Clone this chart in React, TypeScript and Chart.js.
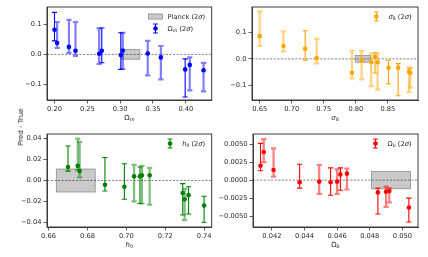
import React, { useEffect, useRef } from "react";
import { Chart, registerables } from "chart.js";
Chart.register(...registerables);

// ---------- Panel 1: Omega_m ----------
const omX = [0.200, 0.204, 0.222, 0.232, 0.268, 0.272, 0.301, 0.304, 0.342, 0.362, 0.399, 0.406, 0.427];
const omY = [0.082, 0.038, 0.025, 0.012, 0.002, 0.012, -0.002, 0.013, 0.003, -0.010, -0.050, -0.035, -0.053];
const omLo = [0.045, 0.022, 0.005, -0.005, -0.032, -0.028, -0.050, -0.048, -0.070, -0.083, -0.142, -0.120, -0.123];
const omHi = [0.140, 0.108, 0.115, 0.108, 0.087, 0.088, 0.072, 0.072, 0.045, 0.028, -0.015, -0.010, -0.028];
const omLight = [false, true, true, true, true, false, false, true, true, true, false, true, true];
const omPlanck = [0.302, 0.330, -0.016, 0.016];
const omXTicks = [0.20, 0.25, 0.30, 0.35, 0.40];
const omXLabels = ["0.20", "0.25", "0.30", "0.35", "0.40"];
const omYTicks = [-0.1, 0.0, 0.1];
const omYLabels = ["\u22120.1", "0.0", "0.1"];

// ---------- Panel 2: sigma_8 ----------
const s8X = [0.650, 0.687, 0.721, 0.739, 0.794, 0.809, 0.824, 0.830, 0.834, 0.851, 0.866, 0.883, 0.885];
const s8Y = [0.085, 0.048, 0.038, 0.003, -0.052, -0.005, -0.013, 0.008, -0.013, -0.033, -0.033, -0.048, -0.053];
const s8Lo = [0.048, 0.028, -0.005, -0.017, -0.073, -0.077, -0.102, -0.053, -0.115, -0.093, -0.138, -0.125, -0.108];
const s8Hi = [0.178, 0.103, 0.105, 0.075, 0.030, 0.030, 0.020, 0.023, 0.020, -0.005, -0.018, -0.033, -0.035];
const s8Light = [true, true, false, true, true, true, true, false, true, false, false, true, true];
const s8Planck = [0.799, 0.823, -0.0125, 0.0125];
const s8XTicks = [0.65, 0.70, 0.75, 0.80, 0.85];
const s8XLabels = ["0.65", "0.70", "0.75", "0.80", "0.85"];
const s8YTicks = [-0.1, 0.0, 0.1];
const s8YLabels = ["\u22120.1", "0.0", "0.1"];

// ---------- Panel 3: h_0 ----------
const h0X = [0.670, 0.675, 0.676, 0.689, 0.699, 0.704, 0.707, 0.708, 0.712, 0.729, 0.730, 0.732, 0.740];
const h0Y = [0.013, 0.014, 0.009, -0.004, -0.006, 0.004, 0.004, 0.005, 0.005, -0.012, -0.018, -0.014, -0.024];
const h0Lo = [0.009, 0.010, 0.003, -0.010, -0.018, -0.020, -0.022, -0.022, -0.023, -0.033, -0.038, -0.032, -0.040];
const h0Hi = [0.033, 0.040, 0.037, 0.022, 0.016, 0.015, 0.013, 0.014, 0.012, -0.003, -0.008, -0.006, -0.015];
const h0Light = [false, true, true, false, false, true, false, true, true, false, true, false, false];
const h0Planck = [0.664, 0.684, -0.011, 0.011];
const h0XTicks = [0.66, 0.68, 0.70, 0.72, 0.74];
const h0XLabels = ["0.66", "0.68", "0.70", "0.72", "0.74"];
const h0YTicks = [-0.04, -0.02, 0.0, 0.02, 0.04];
const h0YLabels = ["\u22120.04", "\u22120.02", "0.00", "0.02", "0.04"];

// ---------- Panel 4: Omega_b ----------
const obX = [0.0413, 0.0415, 0.0421, 0.0437, 0.0449, 0.0456, 0.0460, 0.0462, 0.0466, 0.0485, 0.0490, 0.0492, 0.0504];
const obY = [0.0020, 0.0039, 0.0014, -0.0003, -0.0002, -0.0003, -0.0002, 0.0008, 0.0009, -0.0017, -0.0016, -0.0015, -0.0038];
const obLo = [0.0013, 0.0025, 0.0005, -0.0011, -0.0019, -0.0021, -0.0019, -0.0014, -0.0013, -0.0047, -0.0037, -0.0031, -0.0058];
const obHi = [0.0051, 0.0057, 0.0044, 0.0022, 0.0021, 0.0017, 0.0015, 0.0017, 0.0016, -0.0011, -0.0009, -0.0011, -0.0025];
const obLight = [false, true, true, false, true, false, true, false, true, false, true, true, false];
const obPlanck = [0.0481, 0.0505, -0.0012, 0.0012];
const obXTicks = [0.042, 0.044, 0.046, 0.048, 0.050];
const obXLabels = ["0.042", "0.044", "0.046", "0.048", "0.050"];
const obYTicks = [-0.005, -0.0025, 0.0, 0.0025, 0.005];
const obYLabels = ["\u22120.0050", "\u22120.0025", "0.0000", "0.0025", "0.0050"];

type Seg = { t: string; it?: boolean; sub?: boolean };

const FONT = '"DejaVu Sans", sans-serif';
const FS = 6.7;

function drawSegs(ctx: CanvasRenderingContext2D, segs: Seg[], x: number, y: number, size: number, align: string, color: string) {
  const fontFor = (s: Seg) => `${s.it ? "italic " : ""}${s.sub ? size * 0.7 : size}px ${FONT}`;
  const widths = segs.map((s) => {
    ctx.font = fontFor(s);
    return ctx.measureText(s.t).width;
  });
  const total = widths.reduce((a, b) => a + b, 0);
  let cx = align === "left" ? x : align === "center" ? x - total / 2 : x - total;
  ctx.textAlign = "left";
  ctx.textBaseline = "alphabetic";
  ctx.fillStyle = color;
  segs.forEach((s, i) => {
    ctx.font = fontFor(s);
    ctx.fillText(s.t, cx, s.sub ? y + size * 0.22 : y);
    cx += widths[i];
  });
  return total;
}

function segWidth(ctx: CanvasRenderingContext2D, segs: Seg[], size: number) {
  let w = 0;
  segs.forEach((s) => {
    ctx.font = `${s.it ? "italic " : ""}${s.sub ? size * 0.7 : size}px ${FONT}`;
    w += ctx.measureText(s.t).width;
  });
  return w;
}

type PanelCfg = {
  xs: number[]; ys: number[]; lo: number[]; hi: number[]; light: boolean[];
  planck: number[]; color: string; rgb: string;
  xTicks: number[]; xLabels: string[]; yTicks: number[]; yLabels: string[];
  xMin: number; xMax: number; yMin: number; yMax: number;
  title: Seg[]; legendLabel: Seg[]; showPlanck: boolean;
  canvas: { x: number; y: number; w: number; h: number };
  area: { l: number; t: number; r: number; b: number };
};

const SIG: Seg[] = [{ t: " (2" }, { t: "\u03c3", it: true }, { t: ")" }];

const panels: PanelCfg[] = [
  {
    xs: omX, ys: omY, lo: omLo, hi: omHi, light: omLight, planck: omPlanck,
    color: "#0000ff", rgb: "0,0,255",
    xTicks: omXTicks, xLabels: omXLabels, yTicks: omYTicks, yLabels: omYLabels,
    xMin: 0.1886, xMax: 0.4394, yMin: -0.152, yMax: 0.158,
    title: [{ t: "\u03a9" }, { t: "m", it: true, sub: true }],
    legendLabel: [{ t: "\u03a9" }, { t: "m", it: true, sub: true }, ...SIG],
    showPlanck: true,
    canvas: { x: 0, y: 0, w: 214, h: 128 },
    area: { l: 47, t: 7, r: 213, b: 100 },
  },
  {
    xs: s8X, ys: s8Y, lo: s8Lo, hi: s8Hi, light: s8Light, planck: s8Planck,
    color: "#ffa500", rgb: "255,165,0",
    xTicks: s8XTicks, xLabels: s8XLabels, yTicks: s8YTicks, yLabels: s8YLabels,
    xMin: 0.638, xMax: 0.897, yMin: -0.154, yMax: 0.194,
    title: [{ t: "\u03c3", it: true }, { t: "8", sub: true }],
    legendLabel: [{ t: "\u03c3", it: true }, { t: "8", sub: true }, ...SIG],
    showPlanck: false,
    canvas: { x: 214, y: 0, w: 214, h: 128 },
    area: { l: 252, t: 7, r: 418, b: 100 },
  },
  {
    xs: h0X, ys: h0Y, lo: h0Lo, hi: h0Hi, light: h0Light, planck: h0Planck,
    color: "#008000", rgb: "0,128,0",
    xTicks: h0XTicks, xLabels: h0XLabels, yTicks: h0YTicks, yLabels: h0YLabels,
    xMin: 0.6592, xMax: 0.7439, yMin: -0.0445, yMax: 0.0445,
    title: [{ t: "h", it: true }, { t: "0", sub: true }],
    legendLabel: [{ t: "h", it: true }, { t: "0", sub: true }, ...SIG],
    showPlanck: false,
    canvas: { x: 0, y: 128, w: 214, h: 129 },
    area: { l: 47, t: 132, r: 213, b: 227 },
  },
  {
    xs: obX, ys: obY, lo: obLo, hi: obHi, light: obLight, planck: obPlanck,
    color: "#ff0000", rgb: "255,0,0",
    xTicks: obXTicks, xLabels: obXLabels, yTicks: obYTicks, yLabels: obYLabels,
    xMin: 0.04084, xMax: 0.05096, yMin: -0.0065, yMax: 0.0064,
    title: [{ t: "\u03a9" }, { t: "b", it: true, sub: true }],
    legendLabel: [{ t: "\u03a9" }, { t: "b", it: true, sub: true }, ...SIG],
    showPlanck: false,
    canvas: { x: 214, y: 128, w: 214, h: 129 },
    area: { l: 253, t: 132, r: 418, b: 227 },
  },
];

const SPINE = "#3a3a3a";
const TXT = "#262626";

function makePlugin(p: PanelCfg) {
  return {
    id: "panelExtras",
    beforeDatasetsDraw(chart: any) {
      const { ctx, chartArea: a, scales } = chart;
      const x = scales.x, y = scales.y;
      ctx.save();
      ctx.beginPath();
      ctx.rect(a.left, a.top, a.right - a.left, a.bottom - a.top);
      ctx.clip();
      // Planck box
      const bx0 = x.getPixelForValue(p.planck[0]);
      const bx1 = x.getPixelForValue(p.planck[1]);
      const by0 = y.getPixelForValue(p.planck[3]);
      const by1 = y.getPixelForValue(p.planck[2]);
      ctx.fillStyle = "rgba(150,150,150,0.5)";
      ctx.fillRect(bx0, by0, bx1 - bx0, by1 - by0);
      ctx.strokeStyle = "rgba(120,120,120,0.8)";
      ctx.lineWidth = 0.8;
      ctx.strokeRect(bx0, by0, bx1 - bx0, by1 - by0);
      // zero line
      const zy = y.getPixelForValue(0);
      ctx.setLineDash([2.2, 1.4]);
      ctx.strokeStyle = "rgba(0,0,0,0.6)";
      ctx.lineWidth = 0.8;
      ctx.beginPath();
      ctx.moveTo(a.left, zy);
      ctx.lineTo(a.right, zy);
      ctx.stroke();
      ctx.setLineDash([]);
      // error bars
      p.xs.forEach((xv, i) => {
        const px = x.getPixelForValue(xv);
        const py0 = y.getPixelForValue(p.lo[i]);
        const py1 = y.getPixelForValue(p.hi[i]);
        const light = p.light[i];
        ctx.strokeStyle = light ? `rgba(${p.rgb},0.5)` : p.color;
        ctx.lineWidth = light ? 2.2 : 1.1;
        ctx.beginPath();
        ctx.moveTo(px, py0);
        ctx.lineTo(px, py1);
        const cw = 2.6;
        ctx.moveTo(px - cw, py0);
        ctx.lineTo(px + cw, py0);
        ctx.moveTo(px - cw, py1);
        ctx.lineTo(px + cw, py1);
        ctx.stroke();
      });
      ctx.restore();
    },
    afterDraw(chart: any) {
      const { ctx, chartArea: a } = chart;
      ctx.save();
      // spines
      ctx.strokeStyle = SPINE;
      ctx.lineWidth = 1;
      ctx.strokeRect(a.left, a.top, a.right - a.left, a.bottom - a.top);
      // axis title
      drawSegs(ctx, p.title, (a.left + a.right) / 2, a.bottom + 19.5, 7, "center", TXT);
      // legend
      const rows: { kind: string; segs: Seg[] }[] = [];
      if (p.showPlanck) rows.push({ kind: "box", segs: [{ t: "Planck" }, ...SIG] });
      rows.push({ kind: "err", segs: p.legendLabel });
      const maxW = Math.max(...rows.map((r) => segWidth(ctx, r.segs, FS)));
      const textRight = a.right - 6.5;
      const textLeft = textRight - maxW;
      const hc = textLeft - 5.4 - 6.7;
      rows.forEach((r, i) => {
        const cy = a.top + 9.5 + i * 12;
        if (r.kind === "box") {
          ctx.fillStyle = "rgba(150,150,150,0.5)";
          ctx.fillRect(hc - 7, cy - 2.6, 14, 5.2);
          ctx.strokeStyle = "rgba(120,120,120,0.8)";
          ctx.lineWidth = 0.8;
          ctx.strokeRect(hc - 7, cy - 2.6, 14, 5.2);
        } else {
          ctx.strokeStyle = p.color;
          ctx.lineWidth = 1.1;
          ctx.beginPath();
          ctx.moveTo(hc, cy - 4.5);
          ctx.lineTo(hc, cy + 4.5);
          ctx.moveTo(hc - 2.4, cy - 4.5);
          ctx.lineTo(hc + 2.4, cy - 4.5);
          ctx.moveTo(hc - 2.4, cy + 4.5);
          ctx.lineTo(hc + 2.4, cy + 4.5);
          ctx.stroke();
          ctx.fillStyle = p.color;
          ctx.beginPath();
          ctx.arc(hc, cy, 2.3, 0, Math.PI * 2);
          ctx.fill();
        }
        drawSegs(ctx, r.segs, textLeft, cy + 2.4, FS, "left", TXT);
      });
      ctx.restore();
    },
  };
}

function Panel({ p }: { p: PanelCfg }) {
  const ref = useRef<HTMLCanvasElement | null>(null);
  useEffect(() => {
    if (!ref.current) return;
    const c = p.canvas, ar = p.area;
    const yW = ar.l - c.x;
    const xH = c.y + c.h - ar.b;
    const chart = new Chart(ref.current, {
      type: "scatter",
      data: {
        datasets: [
          {
            data: p.xs.map((xv, i) => ({ x: xv, y: p.ys[i] })),
            backgroundColor: p.color,
            borderWidth: 0,
            pointRadius: 2.3,
            pointHoverRadius: 2.3,
          },
        ],
      },
      options: {
        responsive: false,
        animation: false,
        devicePixelRatio: 1,
        events: [],
        layout: {
          padding: { left: 0, top: ar.t - c.y, right: c.x + c.w - ar.r, bottom: 0 },
        },
        plugins: { legend: { display: false }, tooltip: { enabled: false } },
        scales: {
          x: {
            type: "linear",
            min: p.xMin,
            max: p.xMax,
            afterBuildTicks: (s: any) => {
              s.ticks = p.xTicks.map((v) => ({ value: v }));
            },
            afterFit: (s: any) => {
              s.height = xH;
            },
            ticks: {
              autoSkip: false,
              maxRotation: 0,
              padding: 1.5,
              color: TXT,
              font: { family: FONT, size: FS },
              callback: (_v: any, i: number) => p.xLabels[i],
            },
            grid: { drawOnChartArea: false, drawTicks: true, tickLength: 3.5, color: SPINE, lineWidth: 0.8 },
            border: { display: true, color: SPINE, width: 1 },
          },
          y: {
            type: "linear",
            min: p.yMin,
            max: p.yMax,
            afterBuildTicks: (s: any) => {
              s.ticks = p.yTicks.map((v) => ({ value: v }));
            },
            afterFit: (s: any) => {
              s.width = yW;
            },
            ticks: {
              autoSkip: false,
              padding: 2,
              color: TXT,
              font: { family: FONT, size: FS },
              callback: (_v: any, i: number) => p.yLabels[i],
            },
            grid: { drawOnChartArea: false, drawTicks: true, tickLength: 3.5, color: SPINE, lineWidth: 0.8 },
            border: { display: true, color: SPINE, width: 1 },
          },
        },
      },
      plugins: [makePlugin(p)],
    } as any);
    return () => chart.destroy();
  }, [p]);
  return (
    <canvas
      ref={ref}
      width={p.canvas.w}
      height={p.canvas.h}
      style={{ position: "absolute", left: p.canvas.x, top: p.canvas.y, width: p.canvas.w, height: p.canvas.h }}
    />
  );
}

export default function App() {
  useEffect(() => {
    document.body.style.margin = "0";
  }, []);
  return (
    <div style={{ position: "fixed", left: 0, top: 0, width: 428, height: 257, background: "#fff", overflow: "hidden" }}>
      {panels.map((p, i) => (
        <Panel key={i} p={p} />
      ))}
      <div
        style={{
          position: "absolute",
          left: 20.5,
          top: 127,
          transform: "translate(-50%, -50%) rotate(-90deg)",
          whiteSpace: "nowrap",
          fontFamily: FONT,
          fontSize: 7,
          color: TXT,
        }}
      >
        Pred - True
      </div>
    </div>
  );
}
